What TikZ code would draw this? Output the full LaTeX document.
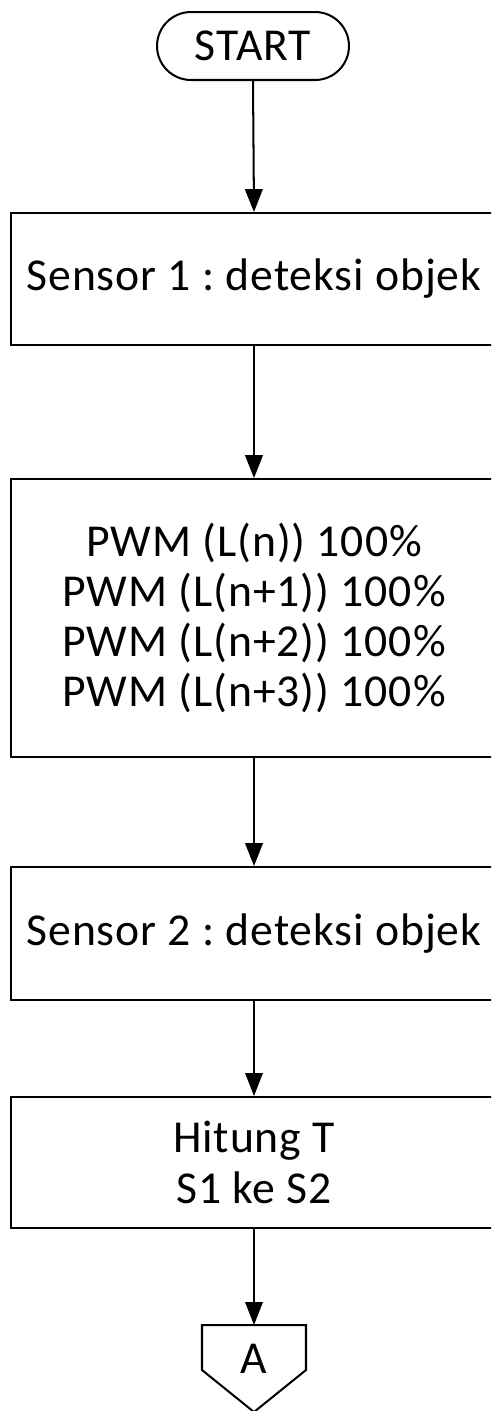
\documentclass[tikz,border=0pt]{standalone}
\usepackage{fontspec}
\setmainfont{Carlito}[LetterSpace=2]
\usepackage{tikz}
\usetikzlibrary{arrows.meta, shapes, calc, positioning}
\tikzstyle{line} = [draw, line width=1.15pt, -{Triangle[length=13pt,width=10pt]}]
\tikzstyle{thinline} = [draw, line width=0.6pt, -{Triangle[length=13pt,width=10pt]}]
\frenchspacing

\begin{document}
\begin{tikzpicture}[x=0.02cm,y=-0.02cm,
  item/.style={rectangle,draw,line width=1.15pt,align=center,inner sep=0pt,
    minimum width=9.72cm,font=\fontsize{26}{28.6}\selectfont},
  term/.style={rectangle,rounded corners=0.68cm,draw,line width=1.15pt,
    minimum width=3.84cm,minimum height=1.36cm,inner sep=0pt,
    font=\fontsize{26}{28.6}\selectfont}]
 \useasboundingbox (0,0) rectangle (491,1411);
 \clip (0,0) rectangle (491,1411);

 \node[term] (start) at (253,46) {START};
 \node[item, minimum height=2.64cm] (sens1) at (254,279) {Sensor 1 : deteksi objek};
 \node[item, minimum height=5.56cm] (pwm) at (254,618)
  {PWM (L(n)) 100\%\\PWM (L(n+1)) 100\%\\PWM (L(n+2)) 100\%\\PWM (L(n+3)) 100\%};
 \node[item, minimum height=2.66cm] (sens2) at (254,933.5) {Sensor 2 : deteksi objek};
 \node[item, minimum height=2.62cm] (hitung) at (254,1162.5) {Hitung T\\S1 ke S2};

 % off-page connector
 \node[font=\fontsize{26}{28.6}\selectfont] (conA) at (254,1359) {A};
 \coordinate (conAtop) at (254,1325);
 \draw[line width=1.15pt] (202,1325) -- (202,1370) -- (254,1412) -- (306,1370) -- (306,1325) -- cycle;

 \path[line] (start.south) -- (sens1.north);
 \path[line] (sens1.south) -- (pwm.north);
 \path[line] (pwm.south) -- (sens2.north);
 \path[thinline] (sens2.south) -- (hitung.north);
 \path[thinline] (hitung.south) -- (conAtop);
\end{tikzpicture}
\end{document}
